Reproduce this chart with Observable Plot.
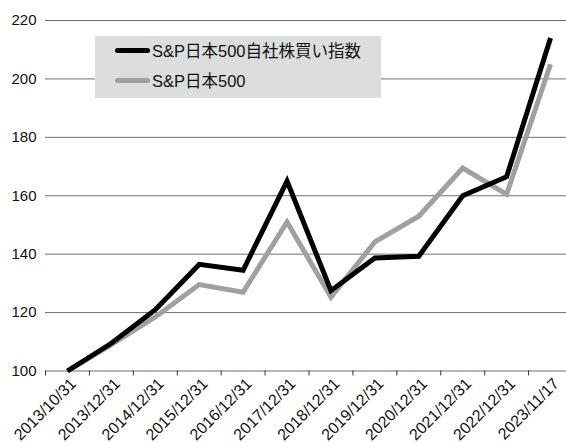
<!DOCTYPE html>
<html>
<head>
<meta charset="utf-8">
<script src="https://cdn.jsdelivr.net/npm/d3@7"></script>
<script src="https://cdn.jsdelivr.net/npm/@observablehq/plot@0.6"></script>
<style>
  html, body { margin: 0; padding: 0; background: #fff; }
  #chart { position: relative; width: 566px; height: 442px; overflow: hidden; font-family: "Liberation Sans", "Noto Sans CJK JP", sans-serif; }
  .legend { position: absolute; left: 95px; top: 36px; width: 286px; height: 62px; background: #dcdddd; }
  .legend .row { position: absolute; left: 20px; height: 20px; display: flex; align-items: center; font-size: 16.5px; color: #111; white-space: nowrap; }
  .legend .swatch { width: 35px; height: 5px; border-radius: 3px; margin-right: 2px; }
</style>
</head>
<body>
<div id="chart"></div>
<script>
// Reporting dates (x categories)
const dates = [
  "2013/10/31", "2013/12/31", "2014/12/31", "2015/12/31", "2016/12/31", "2017/12/31",
  "2018/12/31", "2019/12/31", "2020/12/31", "2021/12/31", "2022/12/31", "2023/11/17"
];
// S&P Japan 500 Buyback Index (rebased to 100)
const buyback = [100, 109.5, 121, 136.5, 134.5, 165, 127.5, 138.7, 139.3, 160, 166.5, 214];
// S&P Japan 500 (rebased to 100)
const sp500 = [100, 109, 118.5, 129.6, 127, 151, 125.3, 144.2, 153, 169.5, 160.5, 205];
// Series names and colours
const seriesNames = ["S&P日本500自社株買い指数", "S&P日本500"];
const seriesColors = ["#000000", "#a0a0a0"];
// Y axis tick values
const yTicks = [100, 120, 140, 160, 180, 200, 220];

const rows = [];
dates.forEach((d, i) => {
  rows.push({i, date: d, value: sp500[i], series: seriesNames[1]});
});
dates.forEach((d, i) => {
  rows.push({i, date: d, value: buyback[i], series: seriesNames[0]});
});

const idx = d3.range(dates.length);
const bounds = d3.range(dates.length + 1).map(k => k - 0.5);

// The category band runs slightly past the right edge of the figure
const plot = Plot.plot({
  width: 566,
  height: 442,
  marginLeft: 45,
  marginRight: 0,
  marginTop: 20,
  marginBottom: 71.5,
  style: {fontFamily: "'Liberation Sans', 'Noto Sans CJK JP', sans-serif", color: "#111", background: "#fff", overflow: "hidden"},
  x: {type: "linear", domain: [-0.5, dates.length - 0.5], range: [45, 572]},
  y: {domain: [100, 220]},
  color: {domain: seriesNames, range: seriesColors},
  marks: [
    Plot.ruleY(yTicks, {stroke: "#6f6f6f", strokeWidth: 1}),
    Plot.axisY({ticks: yTicks, tickSize: 0, tickPadding: 9, fontSize: 15, label: null}),
    Plot.axisX({ticks: bounds, tickSize: 5, tickFormat: () => "", label: null, stroke: "#333"}),
    Plot.axisX({ticks: idx, tickSize: 0, tickPadding: 10, dx: 6, tickRotate: -45, fontSize: 16, tickFormat: i => dates[i], label: null}),
    Plot.line(rows, {x: "i", y: "value", z: "series", stroke: "series", strokeWidth: 5, strokeLinejoin: "miter", strokeMiterlimit: 4, strokeLinecap: "butt"})
  ]
});

const chart = document.getElementById("chart");
chart.appendChild(plot);

// Legend box drawn over the plot area
const legend = document.createElement("div");
legend.className = "legend";
seriesNames.forEach((name, k) => {
  const row = document.createElement("div");
  row.className = "row";
  row.style.top = (k === 0 ? 4 : 34) + "px";
  const sw = document.createElement("span");
  sw.className = "swatch";
  sw.style.background = seriesColors[k];
  const label = document.createElement("span");
  label.textContent = name;
  row.appendChild(sw);
  row.appendChild(label);
  legend.appendChild(row);
});
chart.appendChild(legend);
</script>
</body>
</html>
